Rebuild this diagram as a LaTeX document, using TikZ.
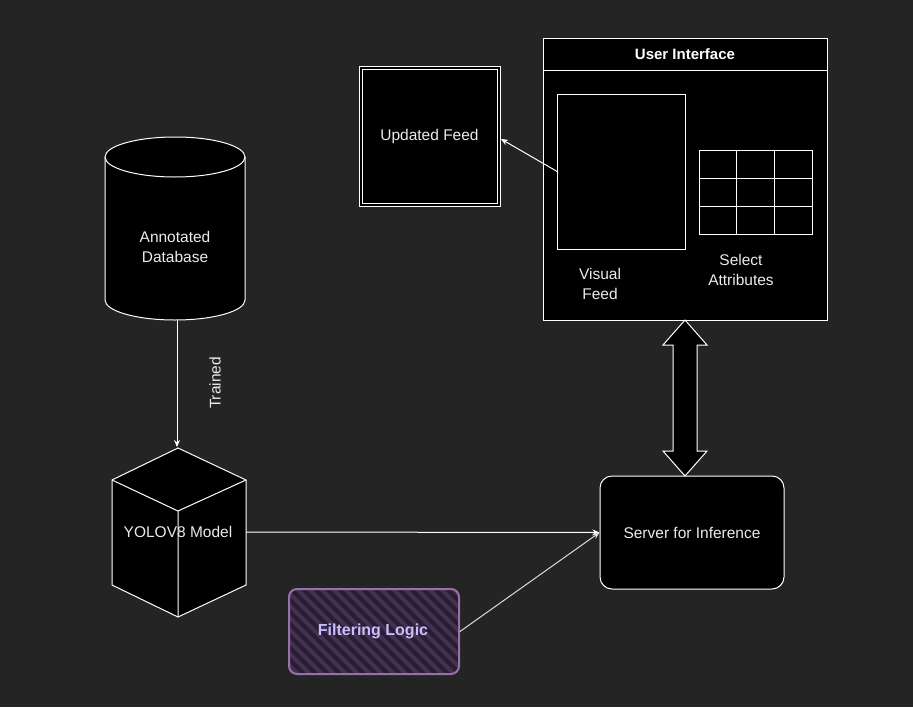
\documentclass[tikz,border=0pt]{standalone}
\usepackage{fontspec}
\setmainfont{Liberation Sans}
\usetikzlibrary{arrows.meta}
\begin{document}
\begin{tikzpicture}[x=1pt,y=-1pt,line width=1pt,
 wl/.style={draw=white,fill=black},
 txt/.style={text={rgb,255:red,235;green,235;blue,235},font=\fontsize{15.5}{20}\selectfont,align=center},
 arr/.style={draw=white,-{Stealth[length=7pt,width=6pt]}}]
\fill[fill={rgb,255:red,36;green,36;blue,36}] (0,0) rectangle (913,707);
% cylinder
\path[wl] (105,157) -- (105,300) arc[start angle=180,end angle=0,x radius=70,y radius=20] -- (245,157) arc[start angle=0,end angle=-180,x radius=70,y radius=20] -- cycle;
\draw[white] (105,157) arc[start angle=180,end angle=0,x radius=70,y radius=20];
\node[txt] (db) at (175,247) {Annotated\\Database};
\coordinate (dbb) at (177,320);
% cube
\path[wl] (178,448) -- (246,480) -- (246,585) -- (178,617) -- (112,585) -- (112,480) -- cycle;
\draw[white] (112,480) -- (178,511) -- (246,480) (178,511) -- (178,617);
\node[txt] (yolo) at (178,532) {YOLOV8 Model};
\coordinate (yt) at (177,447);
\coordinate (yr) at (246,532);
\draw[arr] (dbb) -- (yt);
\node[txt,rotate=90] (tr) at (215,383) {Trained};
% server
\node[wl,rounded corners=12pt,minimum width=184pt,minimum height=113pt,txt] (srv) at (692,532.5) {Server for Inference};
% filtering
\begin{scope}
\clip[rounded corners=8pt] (289,589) rectangle (459,674);
\fill[fill={rgb,255:red,40;green,30;blue,48}] (289,589) rectangle (459,674);
\foreach \k in {0,...,24}{\draw[line width=4pt,draw={rgb,255:red,68;green,48;blue,82}] (289+12*\k-100,589) -- ++(100,100);}
\end{scope}
\node[draw={rgb,255:red,150;green,115;blue,166},line width=2pt,rounded corners=8pt,minimum width=170pt,minimum height=85pt] (filt) at (374,631.5) {};
\node[text={rgb,255:red,200;green,190;blue,255},font=\bfseries\fontsize{16}{18}\selectfont] at (373,631.5) {Filtering Logic};
\draw[arr] (yr) -- (srv.west);
\draw[arr,draw={rgb,255:red,220;green,220;blue,220}] (filt.east) -- (srv.west);
% UI
\node[wl,minimum width=284pt,minimum height=282pt,anchor=north west] (ui) at (543,38) {};
\draw[white] (543,70) -- (827,70);
\node[text=white,font=\bfseries\fontsize{15}{18}\selectfont] (uit) at (685,54) {User Interface};
\node[wl,minimum width=128pt,minimum height=155pt,anchor=north west] (vf) at (557,94) {};
\node[txt] (vft) at (600,284) {Visual\\Feed};
\foreach \i in {0,1,2}{\foreach \j in {0,1,2}{
 \draw[white,fill=black] (699+37.7*\i,150+28.3*\j) rectangle ++(37.7,28.3);}}
\node[txt] (sa) at (741,270) {Select\\Attributes};
% updated feed
\node[draw=white,double=black,double distance=2pt,fill=black,minimum width=138pt,minimum height=137pt,txt] (uf) at (429.5,136) {Updated Feed};
\coordinate (vfl) at (558,172);
\draw[arr] (vfl) -- (501,139);
% double arrow
\draw[white,fill=black] (685,320) -- (707,345) -- (697,345) -- (697,451) -- (707,451) -- (685,476) -- (663,451) -- (673,451) -- (673,345) -- (663,345) -- cycle;
\end{tikzpicture}
\end{document}
